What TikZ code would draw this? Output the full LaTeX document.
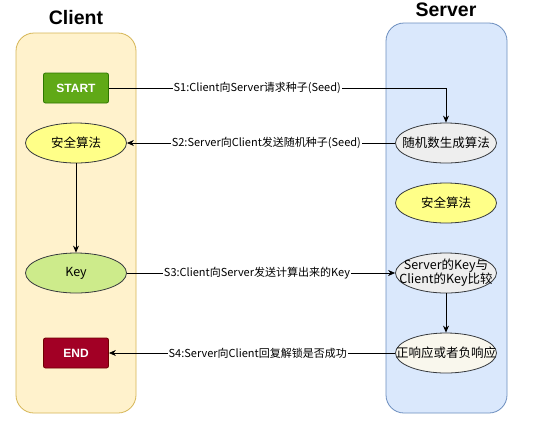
\documentclass[tikz,border=0pt]{standalone}
\usepackage{fontspec}
\setmainfont{Noto Sans CJK SC}
\newfontfamily\titlefont{Liberation Sans}
\usetikzlibrary{arrows.meta,shapes.geometric}

\definecolor{clientfill}{HTML}{FFF2CC}
\definecolor{clientline}{HTML}{D6B656}
\definecolor{serverfill}{HTML}{DAE8FC}
\definecolor{serverline}{HTML}{6C8EBF}
\definecolor{startfill}{HTML}{60A917}
\definecolor{startline}{HTML}{2D7600}
\definecolor{endfill}{HTML}{A20025}
\definecolor{endline}{HTML}{6F0000}
\definecolor{algofill}{HTML}{FFFF88}
\definecolor{keyfill}{HTML}{CDEB8B}
\definecolor{grayfill}{HTML}{EEEEEE}
\definecolor{respfill}{HTML}{F9F7ED}
\definecolor{ovalline}{HTML}{36393D}

\begin{document}
\begin{tikzpicture}[x=1pt,y=-1pt,>={Stealth[length=7pt,width=6pt]},
  lane/.style={rounded corners=18pt,line width=0.8pt},
  oval/.style={ellipse,draw=ovalline,line width=0.8pt,minimum width=101pt,minimum height=40pt,
    inner xsep=-20pt,inner ysep=-4pt,font=\fontsize{12.5}{14}\selectfont,align=center},
  termbox/.style={rectangle,rounded corners=2pt,line width=0.8pt,minimum width=65pt,minimum height=30pt,
    text=white,font=\titlefont\bfseries\fontsize{12}{14}\selectfont},
  lbl/.style={fill=white,inner sep=1pt,font=\fontsize{11}{13}\selectfont},
  flow/.style={->,line width=0.8pt}]
  \useasboundingbox (0,0) rectangle (553,424);
  \fill[white] (0,0) rectangle (553,424);

  % swimlanes
  \draw[lane,fill=clientfill,draw=clientline] (16,33) rectangle (136,413);
  \draw[lane,fill=serverfill,draw=serverline] (386,23) rectangle (507,413);
  \node[font=\titlefont\bfseries\fontsize{19.5}{22}\selectfont] (clienttitle) at (76,18) {Client};
  \node[font=\titlefont\bfseries\fontsize{19.5}{22}\selectfont] (servertitle) at (446,10) {Server};

  % client side
  \node[termbox,fill=startfill,draw=startline] (start) at (76,88) {START};
  \node[oval,fill=algofill] (calgo) at (76,143) {安全算法};
  \node[oval,fill=keyfill] (key) at (76,273) {Key};
  \node[termbox,fill=endfill,draw=endline] (finish) at (76,353) {END};

  % server side
  \node[oval,fill=grayfill] (rand) at (446,143) {随机数生成算法};
  \node[oval,fill=algofill] (salgo) at (446,203) {安全算法};
  \node[oval,fill=grayfill] (cmp) at (446,273) {Server的Key与\\Client的Key比较};
  \node[oval,fill=respfill] (resp) at (446,353) {正响应或者负响应};

  % messages
  \draw[flow] (start.east) -| node[lbl,pos=0.22] {S1:Client向Server请求种子(Seed)} (rand.north);
  \draw[flow] (rand.west) -- node[lbl,pos=0.48] {S2:Server向Client发送随机种子(Seed)} (calgo.east);
  \draw[flow] (calgo.south) -- (key.north);
  \draw[flow] (key.east) -- node[lbl,pos=0.485] {S3:Client向Server发送计算出来的Key} (cmp.west);
  \draw[flow] (cmp.south) -- (resp.north);
  \draw[flow] (resp.west) -- node[lbl,pos=0.48] {S4:Server向Client回复解锁是否成功} (finish.east);
\end{tikzpicture}
\end{document}
